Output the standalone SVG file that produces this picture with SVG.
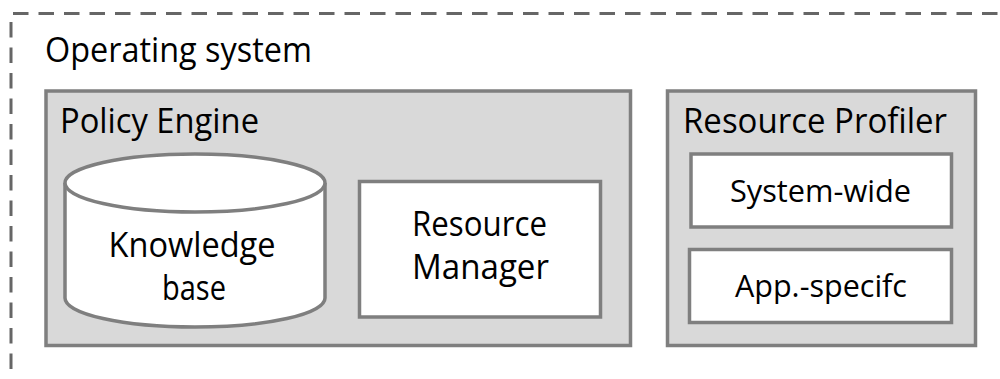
<svg xmlns="http://www.w3.org/2000/svg" width="1000" height="379" viewBox="0 0 1000 379">
  <style>
    .panel { fill: #d9d9d9; stroke: #7f7f7f; stroke-width: 3.5; }
    .box { fill: #ffffff; stroke: #7f7f7f; stroke-width: 3.5; }
    .frame { fill: none; stroke: #666666; stroke-width: 3; stroke-dasharray: 15.5 10; }
    text { font-family: "Open Sans", "Noto Sans", "Liberation Sans", sans-serif; fill: #000000; }
    .lg { font-size: 34px; }
    .sm { font-size: 31px; }
    .mid { text-anchor: middle; }
  </style>

  <!-- Operating system boundary (open to the right and bottom) -->
  <g id="os">
    <line class="frame" x1="13" y1="13.5" x2="1000" y2="13.5"/>
    <line class="frame" x1="11" y1="22" x2="11" y2="379"/>
    <text class="lg" x="45" y="62" textLength="267" lengthAdjust="spacingAndGlyphs">Operating system</text>
  </g>

  <!-- Policy Engine -->
  <g id="policy-engine">
    <rect class="panel" x="46" y="91" width="584.5" height="254.5"/>
    <text class="lg" x="60" y="133" textLength="199" lengthAdjust="spacingAndGlyphs">Policy Engine</text>
  </g>

  <g id="knowledge-base">
    <path class="box" d="M65,183 L65,298 A130,29 0 0 0 325,298 L325,183 A130,29 0 0 0 65,183 Z"/>
    <path class="box" d="M65,183 A130,29 0 0 0 325,183" fill="none"/>
    <text class="lg mid" x="192" y="257" textLength="167" lengthAdjust="spacingAndGlyphs">Knowledge</text>
    <text class="lg mid" x="194" y="300" textLength="64" lengthAdjust="spacingAndGlyphs">base</text>
  </g>

  <g id="resource-manager">
    <rect class="box" x="359.5" y="181.5" width="241" height="135.5"/>
    <text class="lg mid" x="479.5" y="236" textLength="135" lengthAdjust="spacingAndGlyphs">Resource</text>
    <text class="lg mid" x="480.5" y="279" textLength="137" lengthAdjust="spacingAndGlyphs">Manager</text>
  </g>

  <!-- Resource Profiler -->
  <g id="resource-profiler">
    <rect class="panel" x="667.5" y="91" width="308" height="254.5"/>
    <text class="lg" x="683" y="133" textLength="264" lengthAdjust="spacingAndGlyphs">Resource Profiler</text>
  </g>

  <g id="system-wide">
    <rect class="box" x="691" y="154" width="260.5" height="73"/>
    <text class="sm mid" x="820.5" y="201.5" textLength="181" lengthAdjust="spacingAndGlyphs">System-wide</text>
  </g>

  <g id="app-specific">
    <rect class="box" x="689.5" y="249.5" width="262" height="73"/>
    <text class="sm mid" x="821" y="296.5" textLength="172" lengthAdjust="spacingAndGlyphs">App.-specifc</text>
  </g>

  <!-- no connectors in this diagram -->
  <g id="connectors"/>
</svg>
